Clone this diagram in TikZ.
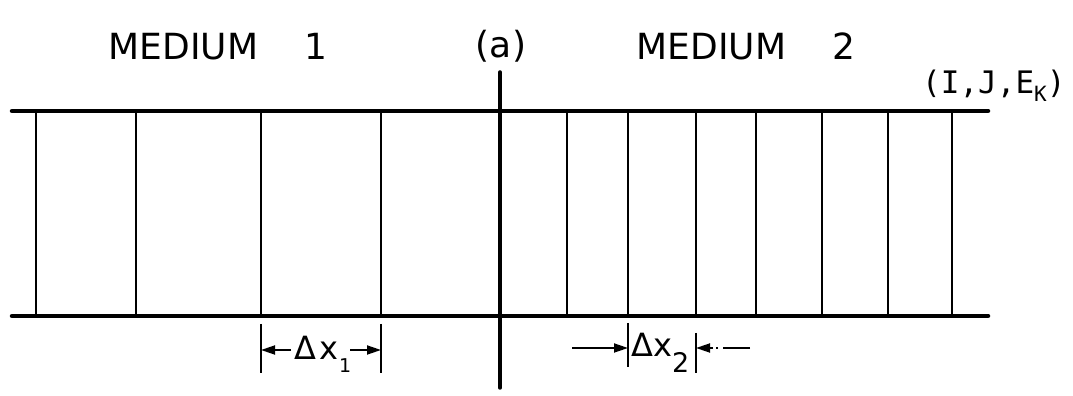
\documentclass[tikz,border=0pt]{standalone}
\usepackage{fontspec}
\setmainfont{DejaVu Sans}
\newfontfamily\monofont{DejaVu Sans Mono}
\usetikzlibrary{arrows.meta}
\begin{document}
\begin{tikzpicture}[x=1pt,y=1pt,
  rail/.style={line width=4.5pt, line cap=round},
  cell/.style={line width=2.3pt},
  iface/.style={line width=3.5pt, line cap=round},
  dimtick/.style={line width=2pt},
  dimarrow/.style={line width=1.8pt,-{Triangle[length=14pt,width=9pt]}},
  title/.style={inner sep=0pt, font=\fontsize{36}{36}\selectfont, anchor=base},
  dimlabel/.style={inner sep=0pt, font=\fontsize{32}{32}\selectfont, anchor=base west}]
\useasboundingbox (0,0) rectangle (1073,396);
% rails
\coordinate (TL) at (12,285); \coordinate (TR) at (988,285);
\coordinate (BL) at (12,80);  \coordinate (BR) at (988,80);
\draw[rail] (TL) -- (TR);
\draw[rail] (BL) -- (BR);
% cell boundaries
\foreach \x [count=\i] in {36,136,261,381,567,628,696,756,822,888,952} {
  \coordinate (u\i) at (\x,285); \coordinate (d\i) at (\x,80);
  \draw[cell] (u\i) -- (d\i);
}
% interface
\coordinate (ifT) at (500,324); \coordinate (ifB) at (500,8);
\draw[iface] (ifT) -- (ifB);
% titles
\node[title] (m1) at (218,336) {MEDIUM\hspace{46pt}1};
\node[title] (lbl) at (501,338) {(a)};
\node[title] (m2) at (746,336) {MEDIUM\hspace{46pt}2};
\node[anchor=base west, inner sep=0pt, font=\monofont\fontsize{31}{31}\selectfont] (ijk) at (922,302)
  {(I,J,E\raisebox{-8pt}{\fontsize{21}{21}\selectfont K})};
% dimension dx1
\coordinate (p1a) at (261,72); \coordinate (p1b) at (261,23);
\coordinate (p2a) at (381,72); \coordinate (p2b) at (381,23);
\draw[dimtick] (p1a) -- (p1b);
\draw[dimtick] (p2a) -- (p2b);
\node[dimlabel] (dx1) at (294,36) {Δ\kern3pt x\kern1pt\raisebox{-13pt}{\fontsize{19}{19}\selectfont 1}};
\coordinate (a1s) at (291,46); \coordinate (a1e) at (261,46);
\coordinate (a2s) at (350,46); \coordinate (a2e) at (381,46);
\draw[dimarrow] (a1s) -- (a1e);
\draw[dimarrow] (a2s) -- (a2e);
% dimension dx2
\coordinate (q1a) at (628,73); \coordinate (q1b) at (628,29);
\coordinate (q2a) at (696,63); \coordinate (q2b) at (696,23);
\draw[dimtick] (q1a) -- (q1b);
\draw[dimtick] (q2a) -- (q2b);
\node[dimlabel] (dx2) at (631,39) {Δx\raisebox{-16pt}{\fontsize{27}{27}\selectfont 2}};
\coordinate (b1s) at (572,48); \coordinate (b1e) at (628,48);
\coordinate (b2s) at (750,48); \coordinate (b2e) at (696,48);
\draw[dimarrow] (b1s) -- (b1e);
\draw[dimarrow, dash pattern=on 27pt off 5pt on 2pt off 3pt on 40pt] (b2s) -- (b2e);
\end{tikzpicture}
\end{document}
